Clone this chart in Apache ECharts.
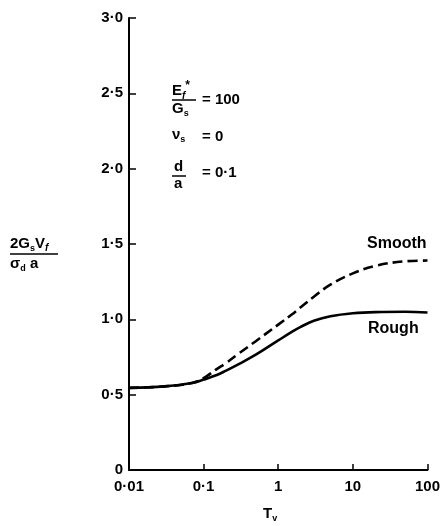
<!DOCTYPE html>
<html>
<head>
<meta charset="utf-8">
<script src="https://cdn.jsdelivr.net/npm/echarts@6/dist/echarts.min.js"></script>
<style>
  html, body { margin: 0; padding: 0; background: #fff; }
  #chart { width: 443px; height: 526px; }
</style>
</head>
<body>
<div id="chart"></div>
<script>
// Dimensionless time factor T_v (log scale)
const tvValues = [0.01, 0.03, 0.07, 0.1, 0.15, 0.2, 0.3, 0.5, 1, 1.5, 2, 3, 5, 10, 20, 50, 100];
// Normalised settlement 2 G_s V_f / (sigma_d a) for a rough base
const roughValues = [0.545, 0.555, 0.578, 0.60, 0.63, 0.66, 0.705, 0.765, 0.86, 0.915, 0.95, 0.99, 1.02, 1.04, 1.048, 1.05, 1.045];
// Same quantity for a smooth base (follows the rough curve below T_v = 0.1)
const smoothValues = [0.545, 0.555, 0.578, 0.61, 0.67, 0.71, 0.775, 0.855, 0.965, 1.03, 1.08, 1.15, 1.23, 1.305, 1.355, 1.385, 1.39];

const xTickLabels = ['0·01', '0·1', '1', '10', '100'];
const yTickLabels = ['0', '0·5', '1·0', '1·5', '2·0', '2·5', '3·0'];

const FONT = 'Liberation Sans';
const chart = echarts.init(document.getElementById('chart'), null, { renderer: 'canvas' });

const pairs = (xs, ys) => xs.map((x, i) => [x, ys[i]]);

const textBase = { fontFamily: FONT, fontWeight: 'bold', fill: '#000' };
const richScript = {
  b: { fontFamily: FONT, fontWeight: 'bold', fontSize: 15, color: '#000' },
  sub: { fontFamily: FONT, fontWeight: 'bold', fontSize: 9, color: '#000', padding: [10, 0, 0, 0] },
  subi: { fontFamily: FONT, fontWeight: 'bold', fontStyle: 'italic', fontSize: 10, color: '#000', padding: [10, 0, 0, 0] },
  sup: { fontFamily: FONT, fontWeight: 'bold', fontSize: 12, color: '#000', padding: [0, 0, 10, 0] }
};

chart.setOption({
  animation: false,
  backgroundColor: '#fff',
  grid: { left: 129, right: 15, top: 18, bottom: 56, containLabel: false },
  xAxis: {
    type: 'log',
    logBase: 10,
    min: 0.01,
    max: 100,
    axisLine: { show: true, lineStyle: { color: '#000', width: 2 } },
    axisTick: { show: true, inside: true, length: 6, lineStyle: { color: '#000', width: 1.5 } },
    splitLine: { show: false },
    axisLabel: {
      margin: 9,
      color: '#000',
      fontFamily: FONT,
      fontWeight: 'bold',
      fontSize: 15,
      formatter: v => xTickLabels[Math.round(Math.log10(v)) + 2]
    }
  },
  yAxis: {
    type: 'value',
    min: 0,
    max: 3,
    interval: 0.5,
    axisLine: { show: true, lineStyle: { color: '#000', width: 2 } },
    axisTick: { show: true, inside: true, length: 7, lineStyle: { color: '#000', width: 1.5 } },
    splitLine: { show: false },
    axisLabel: {
      margin: 6,
      color: '#000',
      fontFamily: FONT,
      fontWeight: 'bold',
      fontSize: 15,
      formatter: v => yTickLabels[Math.round(v / 0.5)]
    }
  },
  series: [
    {
      name: 'Smooth',
      type: 'line',
      data: pairs(tvValues, smoothValues),
      smooth: 0.4,
      symbol: 'none',
      lineStyle: { color: '#000', width: 2.6, type: [10, 5] },
      z: 2
    },
    {
      name: 'Rough',
      type: 'line',
      data: pairs(tvValues, roughValues),
      smooth: 0.4,
      symbol: 'none',
      lineStyle: { color: '#000', width: 2.6 },
      z: 3
    }
  ],
  graphic: [
    // curve names
    { type: 'text', left: 367, top: 236, style: Object.assign({ text: 'Smooth', fontSize: 16 }, textBase) },
    { type: 'text', left: 368, top: 321, style: Object.assign({ text: 'Rough', fontSize: 16 }, textBase) },
    // x-axis title T_v
    { type: 'text', left: 263, top: 506, style: { text: '{b|T}{sub|v}', rich: richScript } },
    // y-axis title: 2 G_s V_f over sigma_d a
    { type: 'text', left: 10, top: 236, style: { text: '{b|2G}{sub|s}{b|V}{subi|f}', rich: richScript } },
    { type: 'line', shape: { x1: 10, y1: 254, x2: 58, y2: 254 }, style: { stroke: '#000', lineWidth: 1.5 } },
    { type: 'text', left: 10, top: 256, style: { text: '{b|σ}{sub|d}{b| a}', rich: richScript } },
    // parameter block: E_f* / G_s = 100
    { type: 'text', left: 172, top: 80, style: { text: '{b|E}{subi|f}{sup|*}', rich: richScript } },
    { type: 'line', shape: { x1: 172, y1: 100, x2: 196, y2: 100 }, style: { stroke: '#000', lineWidth: 1.5 } },
    { type: 'text', left: 172, top: 101, style: { text: '{b|G}{sub|s}', rich: richScript } },
    { type: 'text', left: 202, top: 92, style: Object.assign({ text: '= 100', fontSize: 15 }, textBase) },
    // nu_s = 0
    { type: 'text', left: 172, top: 127, style: { text: '{b|ν}{sub|s}', rich: richScript } },
    { type: 'text', left: 202, top: 129, style: Object.assign({ text: '= 0', fontSize: 15 }, textBase) },
    // d / a = 0.1
    { type: 'text', left: 174, top: 159, style: Object.assign({ text: 'd', fontSize: 15 }, textBase) },
    { type: 'line', shape: { x1: 172, y1: 176, x2: 186, y2: 176 }, style: { stroke: '#000', lineWidth: 1.5 } },
    { type: 'text', left: 174, top: 176, style: Object.assign({ text: 'a', fontSize: 15 }, textBase) },
    { type: 'text', left: 202, top: 165, style: Object.assign({ text: '= 0·1', fontSize: 15 }, textBase) }
  ]
});
</script>
</body>
</html>
